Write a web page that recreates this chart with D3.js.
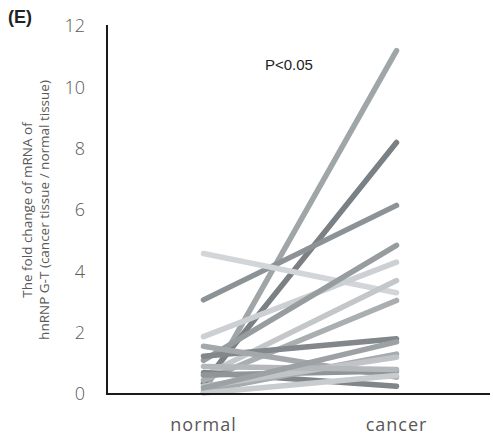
<!DOCTYPE html>
<html>
<head>
<meta charset="utf-8">
<script src="https://cdn.jsdelivr.net/npm/d3@7"></script>
<style>
  html, body { margin: 0; padding: 0; background: #fff; }
  svg { display: block; }
</style>
</head>
<body>
<svg id="chart" width="493" height="439"></svg>
<script>
// ---- data ----
const groups = ["normal", "cancer"];
const normalVals = [0.05, 0.35, 3.07, 4.58, 1.87, 1.10, 0.60, 0.45, 1.23, 1.56, 0.70, 0.62, 0.10, 0.25, 0.03, 0.90, 0.20];
const cancerVals = [11.2, 8.2, 6.15, 3.30, 4.30, 4.85, 3.70, 3.05, 1.80, 0.55, 0.25, 0.75, 1.30, 1.20, 0.60, 0.80, 1.70];
const yTicks = [0, 2, 4, 6, 8, 10, 12];
const titleLines = ["The fold change of mRNA of", "hnRNP G-T (cancer tissue / normal tissue)"];
const pLabel = "P<0.05";
const panelLabel = "(E)";

// ---- styles ----
const lineColors = ["#a0a5a8", "#7a8083", "#8c9296", "#d3d6d8", "#ccd0d3", "#979c9f", "#c3c7ca", "#a9aeb1",
                    "#81878a", "#a3a8ab", "#7f8588", "#8f9598", "#a6abae", "#c0c4c7", "#c8ccce", "#b4b8bb", "#9ca1a4"];

const svg = d3.select("#chart");
const x = d3.scalePoint().domain(groups).range([107, 493]).padding(0.5);
const y = d3.scaleLinear().domain([0, 12]).range([394, 26]);

// lines
const pairs = normalVals.map((n, i) => ({ n, c: cancerVals[i], color: lineColors[i] }));
svg.append("g").selectAll("line").data(pairs).join("line")
  .attr("x1", x("normal")).attr("y1", d => y(d.n))
  .attr("x2", x("cancer")).attr("y2", d => y(d.c))
  .attr("stroke", d => d.color)
  .attr("stroke-width", 5.5)
  .attr("stroke-linecap", "round");

// axes
svg.append("line").attr("x1", 107).attr("x2", 107).attr("y1", y(12) - 1).attr("y2", y(0) + 1)
  .attr("stroke", "#1a1a1a").attr("stroke-width", 2);
svg.append("line").attr("x1", 106).attr("x2", 490).attr("y1", y(0)).attr("y2", y(0))
  .attr("stroke", "#1a1a1a").attr("stroke-width", 2);

// y tick labels
svg.append("g").selectAll("text").data(yTicks).join("text")
  .attr("x", 85).attr("y", d => y(d)).attr("dy", "0.36em")
  .attr("text-anchor", "end")
  .attr("font-family", "'Open Sans', sans-serif").attr("font-size", 18)
  .attr("font-weight", 300)
  .attr("fill", "#595959")
  .text(d => d);

// x labels
svg.append("g").selectAll("text").data(groups).join("text")
  .attr("x", d => x(d)).attr("y", 431)
  .attr("text-anchor", "middle")
  .attr("font-family", "'Open Sans', sans-serif").attr("font-size", 18)
  .attr("letter-spacing", "1px")
  .attr("fill", "#595959")
  .text(d => d);

// y title
const tg = svg.append("g").attr("transform", "translate(0,210) rotate(-90)");
tg.selectAll("text").data(titleLines).join("text")
  .attr("x", 0).attr("y", (d, i) => 32 + i * 17)
  .attr("text-anchor", "middle")
  .attr("font-family", "'Open Sans', sans-serif").attr("font-size", 13.5)
  .attr("fill", "#595959")
  .text(d => d);

// p label
svg.append("text").attr("x", 265).attr("y", 70)
  .attr("font-family", "'Liberation Sans', Arial, sans-serif").attr("font-size", 15)
  .attr("fill", "#222").text(pLabel);

// panel label
svg.append("text").attr("x", 8).attr("y", 23)
  .attr("font-family", "'Liberation Sans', Arial, sans-serif").attr("font-size", 18)
  .attr("font-weight", "bold").attr("fill", "#222").text(panelLabel);
</script>
</body>
</html>
